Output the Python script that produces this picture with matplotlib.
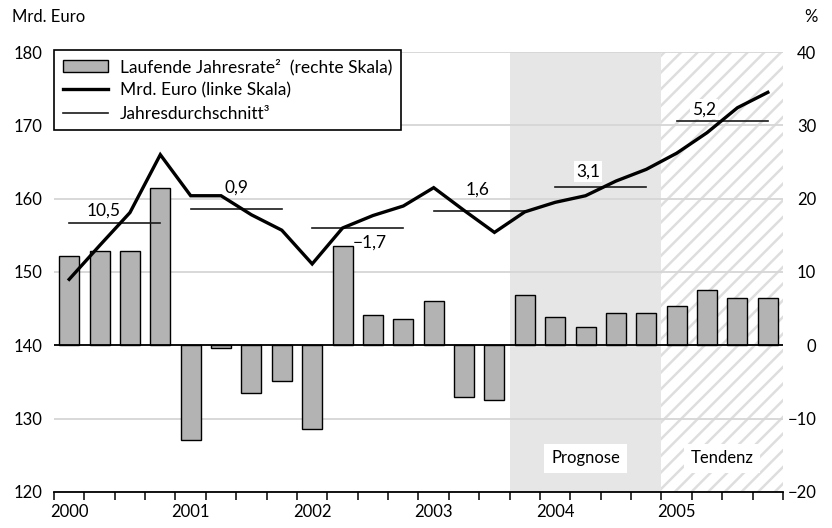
import numpy as np
import matplotlib
matplotlib.use("Agg")
import matplotlib.pyplot as plt
from matplotlib.patches import Patch
from matplotlib.lines import Line2D

plt.rcParams['font.family'] = ['Lato', 'DejaVu Sans']
plt.rcParams['font.size'] = 12
plt.rcParams['hatch.linewidth'] = 1.8

# quarterly data 2000 Q1 .. 2005 Q4
years = ['2000', '2001', '2002', '2003', '2004', '2005']
rate = [12.2, 12.8, 12.8, 21.5, -12.9, -0.3, -6.5, -4.8, -11.4, 13.6, 4.1, 3.6,
        6.1, -7.0, -7.5, 6.9, 3.9, 2.5, 4.4, 4.4, 5.3, 7.5, 6.4, 6.4]
level = [149.0, 153.6, 158.1, 166.0, 160.4, 160.4, 157.8, 155.7, 151.1, 156.0, 157.7, 159.0,
         161.5, 158.4, 155.4, 158.2, 159.5, 160.4, 162.4, 164.0, 166.2, 169.0, 172.4, 174.5]
growth = ['10,5', '0,9', '\u22121,7', '1,6', '3,1', '5,2']

x = np.arange(len(level))
avg = np.array(level).reshape(len(years), 4).mean(axis=1)

fig = plt.figure(figsize=(8.32, 5.28), dpi=100)
ax = fig.add_axes([0.0649, 0.0682, 0.8762, 0.8333])
ax2 = ax.twinx()
ax.set_zorder(2)
ax.patch.set_visible(False)

# background: forecast shading and hatched trend area
ax2.axvspan(14.5, 19.5, facecolor='#e6e6e6', lw=0, zorder=0.1)
ax2.axvspan(19.5, 23.5, facecolor='white', edgecolor='#dedede', hatch='//', lw=0, zorder=0.1)

# bars on right scale
ax2.bar(x, rate, width=0.66, color='#b3b3b3', edgecolor='black', linewidth=1.0, zorder=2)
ax2.axhline(0, color='black', lw=1.3, zorder=3)
ax2.set_ylim(-20, 40)
ax2.set_yticks(np.arange(-20, 41, 10))
ax2.set_yticklabels([str(v).replace('-', '\u2212') for v in range(-20, 41, 10)])
ax2.yaxis.grid(True, color='#d6d6d6', lw=1.3)
ax2.set_axisbelow(True)
ax2.tick_params(axis='y', length=0, pad=24)
for lab in ax2.get_yticklabels():
    lab.set_horizontalalignment('right')

# level line on left scale
ax.plot(x, level, color='black', lw=2.4, solid_joinstyle='miter', zorder=5)
ax.set_ylim(120, 180)
ax.set_yticks(np.arange(120, 181, 10))
ax.tick_params(axis='y', length=0, pad=8)
ax.set_xlim(-0.5, 23.5)

# yearly averages + growth labels
label_pos = [(1.15, 158.4, 'center'), (5.5, 161.5, 'center'), (9.34, 154.0, 'left'),
             (13.46, 161.3, 'center'), (17.08, 163.7, 'center'), (20.9, 172.2, 'center')]
for i, (a, g) in enumerate(zip(avg, growth)):
    ax.plot([4 * i, 4 * i + 3], [a, a], color='#1a1a1a', lw=1.2, zorder=4)
    lx, ly, ha = label_pos[i]
    bb = dict(facecolor='white', edgecolor='none', pad=1.5) if i >= 4 else None
    ax.text(lx, ly, g, ha=ha, va='center', fontsize=12.5, bbox=bb, zorder=6)

ax.text(17, 124.6, 'Prognose', ha='center', va='center', fontsize=12,
        bbox=dict(facecolor='white', edgecolor='none', boxstyle='square,pad=0.4'))
ax.text(21.5, 124.6, 'Tendenz', ha='center', va='center', fontsize=12,
        bbox=dict(facecolor='white', edgecolor='none', boxstyle='square,pad=0.4'))

# x axis: quarter ticks, year labels under first quarter
ax.set_xticks(np.arange(-0.5, 24, 1))
ax.set_xticklabels([])
ax.set_xticks(np.arange(0, 24, 4), minor=True)
ax.set_xticklabels(years, minor=True)
ax.tick_params(axis='x', which='major', length=6, width=1.1, direction='out')
ax.tick_params(axis='x', which='minor', length=0, pad=9)

for a in (ax, ax2):
    for s in ('left', 'right', 'top'):
        a.spines[s].set_visible(False)
ax2.spines['bottom'].set_visible(False)
ax.spines['bottom'].set_linewidth(1.3)

handles = [Patch(facecolor='#b3b3b3', edgecolor='black', linewidth=1.0),
           Line2D([], [], color='black', lw=2.4),
           Line2D([], [], color='#1a1a1a', lw=1.2)]
labels = ['Laufende Jahresrate\u00b2  (rechte Skala)', 'Mrd. Euro (linke Skala)',
          'Jahresdurchschnitt\u00b3']
leg = ax.legend(handles, labels, loc='upper left', bbox_to_anchor=(0.0, 1.005),
                borderaxespad=0, fancybox=False, framealpha=1, edgecolor='black',
                fontsize=12.5, handlelength=2.6, handletextpad=0.7, labelspacing=0.42,
                borderpad=0.5)
leg.get_frame().set_linewidth(1.2)
leg.set_zorder(10)

fig.text(12 / 832, 1 - 17 / 528, 'Mrd. Euro', ha='left', va='center', fontsize=12)
fig.text(818 / 832, 1 - 17 / 528, '%', ha='right', va='center', fontsize=12)

fig.savefig('out.png', dpi=100)
